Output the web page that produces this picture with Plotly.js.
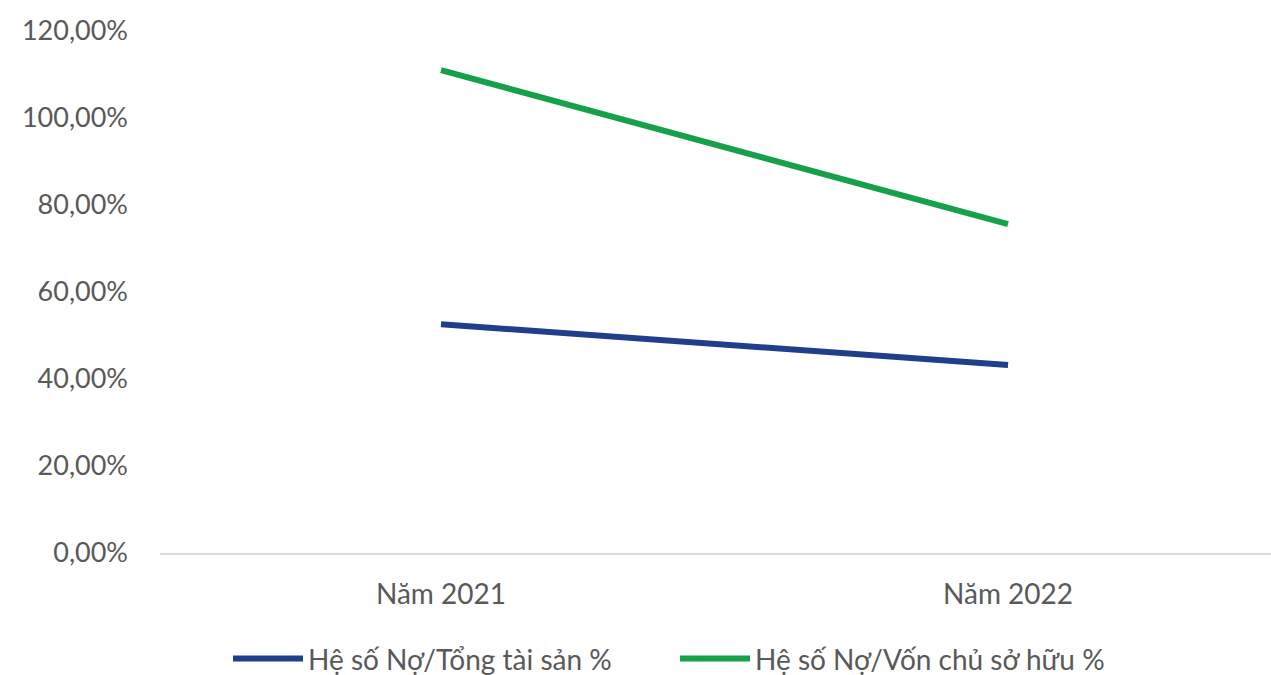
<!DOCTYPE html>
<html>
<head>
<meta charset="utf-8">
<script src="https://cdn.plot.ly/plotly-3.0.1.min.js"></script>
<style>html,body{margin:0;padding:0;background:#fff;}#chart{width:1271px;height:675px;}</style>
</head>
<body>
<div id="chart"></div>
<script>
const categories = ["Năm 2021", "Năm 2022"];
const seriesNames = ["Hệ số Nợ/Tổng tài sản %", "Hệ số Nợ/Vốn chủ sở hữu %"];
const debtToAssets = [52.6, 43.2];
const debtToEquity = [111.0, 75.6];
const yTickVals = [0, 20, 40, 60, 80, 100, 120];
const yTickText = ["0,00%", "20,00%", "40,00%", "60,00%", "80,00%", "100,00%", "120,00%"];

const fontFam = "Lato, 'Noto Sans', sans-serif";
const traces = [
  {x: categories, y: debtToAssets, name: seriesNames[0], type: "scatter", mode: "lines",
   line: {color: "#203F8A", width: 6}},
  {x: categories, y: debtToEquity, name: seriesNames[1], type: "scatter", mode: "lines",
   line: {color: "#16A04A", width: 6}}
];
const layout = {
  width: 1271, height: 675,
  margin: {l: 160, r: 0, t: 31, b: 122, autoexpand: false},
  paper_bgcolor: "#fff", plot_bgcolor: "#fff",
  font: {family: fontFam, color: "#595959", size: 27},
  xaxis: {type: "category", range: [-0.4956, 1.4638], showgrid: false, zeroline: false,
    automargin: false,
    showline: true, linecolor: "#D9D9D9", linewidth: 1.5, ticks: "", ticklabelstandoff: 16,
    tickfont: {family: fontFam, size: 28, color: "#595959"}},
  yaxis: {range: [0, 120], tickvals: yTickVals, ticktext: yTickText, showgrid: false,
    automargin: false,
    zeroline: false, showline: false, ticks: "", ticklabelstandoff: 31,
    tickfont: {family: fontFam, size: 27, color: "#595959"}},
  showlegend: true,
  legend: {orientation: "h", x: 0.0612, xanchor: "left", y: -0.155, yanchor: "top",
    itemwidth: 70, entrywidth: 362, entrywidthmode: "pixels",
    font: {family: fontFam, size: 28, color: "#595959"}, tracegroupgap: 0}
};
Plotly.newPlot("chart", traces, layout, {displayModeBar: false, staticPlot: true});
</script>
</body>
</html>
